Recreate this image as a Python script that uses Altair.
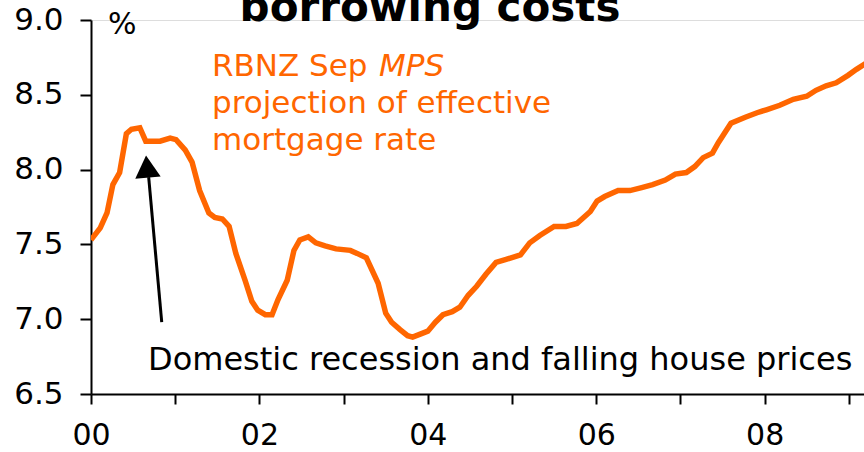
import altair as alt
import pandas as pd

# Effective mortgage rate projection (years since 2000, %)
years = [0.0, 0.11, 0.19, 0.26, 0.34, 0.42, 0.48, 0.58, 0.65, 0.82, 0.94, 1.01, 1.12, 1.20, 1.29, 1.40,
         1.47, 1.56, 1.64, 1.72, 1.83, 1.91, 1.98, 2.07, 2.15, 2.22, 2.33, 2.41, 2.48, 2.58, 2.67,
         2.78, 2.91, 3.08, 3.16, 3.27, 3.41, 3.50, 3.57, 3.67, 3.76, 3.82, 3.91, 4.00, 4.09, 4.18,
         4.29, 4.38, 4.48, 4.58, 4.69, 4.81, 4.93, 5.10, 5.21, 5.33, 5.50, 5.64, 5.77, 5.93, 6.01,
         6.10, 6.26, 6.40, 6.54, 6.67, 6.82, 6.94, 7.07, 7.17, 7.27, 7.38, 7.45, 7.60, 7.77, 7.91,
         8.02, 8.18, 8.34, 8.50, 8.61, 8.73, 8.85, 8.99, 9.09, 9.20]
rates = [7.53, 7.61, 7.71, 7.90, 7.98, 8.24, 8.27, 8.28, 8.19, 8.19, 8.21, 8.20, 8.13, 8.05, 7.86, 7.71,
         7.68, 7.67, 7.62, 7.44, 7.26, 7.12, 7.06, 7.03, 7.03, 7.13, 7.26, 7.46, 7.53, 7.55, 7.51,
         7.49, 7.47, 7.46, 7.44, 7.41, 7.24, 7.04, 6.98, 6.93, 6.89, 6.88, 6.90, 6.92, 6.98, 7.03,
         7.05, 7.08, 7.16, 7.22, 7.30, 7.38, 7.40, 7.43, 7.51, 7.56, 7.62, 7.62, 7.64, 7.72, 7.79,
         7.82, 7.86, 7.86, 7.88, 7.90, 7.93, 7.97, 7.98, 8.02, 8.08, 8.11, 8.18, 8.31, 8.35, 8.38,
         8.40, 8.43, 8.47, 8.49, 8.53, 8.56, 8.58, 8.63, 8.67, 8.71]

ORANGE = "#FF6600"
FONT = "DejaVu Sans"

df = pd.DataFrame({"year": years, "rate": rates})

xscale = alt.Scale(domain=[0, 9.18], nice=False, zero=False)
yscale = alt.Scale(domain=[6.5, 9.0], nice=False, zero=False)

line = alt.Chart(df).mark_line(color=ORANGE, strokeWidth=5.5, clip=True).encode(
    x=alt.X("year:Q", scale=xscale,
            axis=alt.Axis(title=None, values=list(range(0, 10)),
                          labelExpr="datum.value % 2 == 0 ? '0' + datum.value : ''",
                          tickSize=10, labelPadding=16, labelFontSize=30,
                          labelFlush=False, labelOverlap=False,
                          labelFont=FONT, labelColor="black",
                          domainColor="black", tickColor="black",
                          domainWidth=2, tickWidth=2, grid=False)),
    y=alt.Y("rate:Q", scale=yscale,
            axis=alt.Axis(title=None, values=[6.5, 7.0, 7.5, 8.0, 8.5, 9.0], format=".1f",
                          tickSize=11, labelPadding=17, labelFontSize=31,
                          labelFlush=False, labelOverlap=False,
                          labelFont=FONT, labelColor="black",
                          domainColor="black", tickColor="black",
                          domainWidth=2, tickWidth=2, grid=False)),
)

# Arrow (data units)
arrow_df = pd.DataFrame({"x": [0.84], "y": [6.98], "x2": [0.685], "y2": [7.95]})
arrow_line = alt.Chart(arrow_df).mark_rule(color="black", strokeWidth=3).encode(
    x=alt.X("x:Q", scale=xscale), y=alt.Y("y:Q", scale=yscale),
    x2="x2:Q", y2="y2:Q")
head_df = pd.DataFrame({"x": [0.665], "y": [8.02]})
arrow_head = alt.Chart(head_df).mark_point(
    shape="triangle-up", filled=True, color="black", size=650, angle=355, opacity=1
).encode(x=alt.X("x:Q", scale=xscale), y=alt.Y("y:Q", scale=yscale))

def txt(text, x, y, size, color="black", weight="normal", style="normal", align="left"):
    return alt.Chart(pd.DataFrame({"t": [text]})).mark_text(
        font=FONT, fontSize=size, color=color, fontWeight=weight, fontStyle=style,
        align=align, baseline="middle"
    ).encode(text="t:N", x=alt.value(x), y=alt.value(y))

texts = [
    txt("borrowing costs", 339, -12, 42, weight="bold", align="center"),
    txt("%", 17, 5, 30),
    txt("RBNZ Sep", 121, 47, 31, color=ORANGE),
    txt("MPS", 288, 47, 31, color=ORANGE, style="italic"),
    txt("projection of effective", 121, 84, 31, color=ORANGE),
    txt("mortgage rate", 121, 121, 31, color=ORANGE),
    txt("Domestic recession and falling house prices", 57, 340, 32),
]

chart = alt.layer(line, arrow_line, arrow_head, *texts).properties(
    width=773, height=374,
    autosize=alt.AutoSizeParams(type="none"),
    padding={"left": 91, "top": 20, "right": 0, "bottom": 58},
).configure_view(stroke=None).configure(background="white")

chart.save("out.html", embed_options={"renderer": "svg", "actions": False})
